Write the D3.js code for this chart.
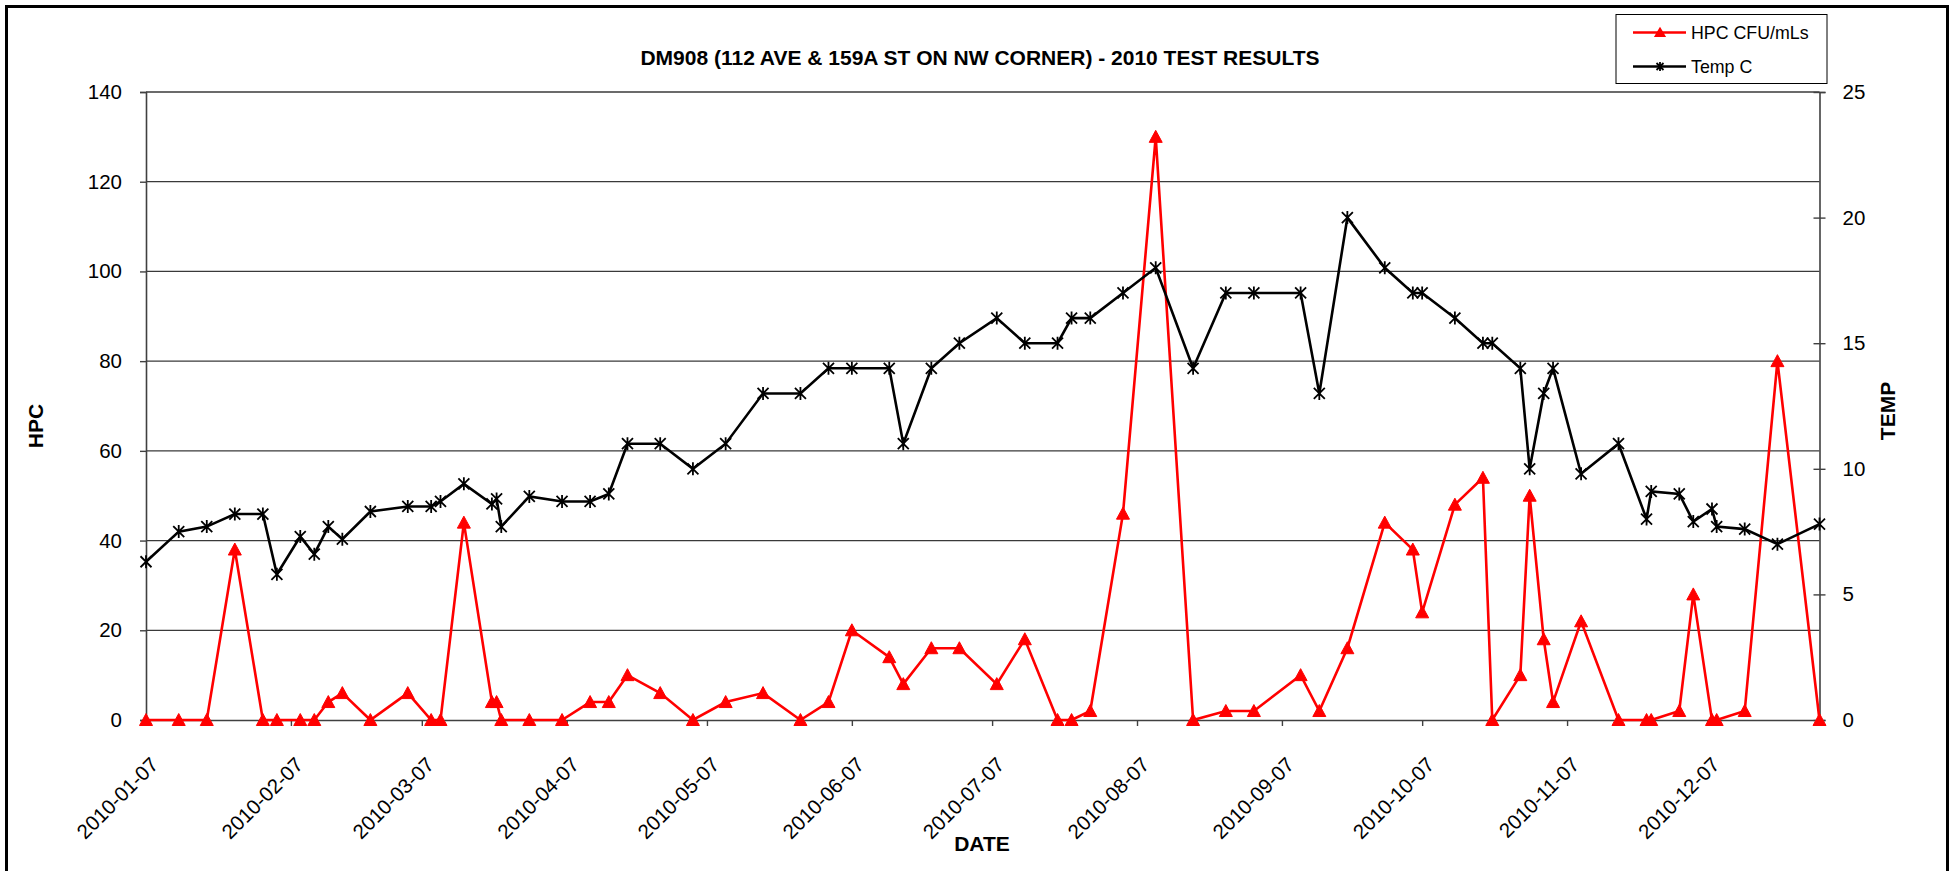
<!DOCTYPE html>
<html><head><meta charset="utf-8">
<script src="https://cdn.jsdelivr.net/npm/d3@7"></script>
<style>
body{margin:0;background:#fff}
svg{display:block}
text{font-family:"Liberation Sans",Arial,sans-serif;fill:#000}
</style>
</head><body>
<svg id="chart" width="1958" height="871"></svg>
<script>
// ---------- DATA ----------
const dates = ["2010-01-07","2010-01-14","2010-01-20","2010-01-26","2010-02-01","2010-02-04","2010-02-09","2010-02-12","2010-02-15","2010-02-18","2010-02-24",
"2010-03-04","2010-03-09","2010-03-11","2010-03-16","2010-03-22","2010-03-23","2010-03-24","2010-03-30","2010-04-06","2010-04-12","2010-04-16","2010-04-20","2010-04-27",
"2010-05-04","2010-05-11","2010-05-19","2010-05-27","2010-06-02","2010-06-07","2010-06-15","2010-06-18","2010-06-24","2010-06-30","2010-07-08","2010-07-14","2010-07-21","2010-07-24","2010-07-28",
"2010-08-04","2010-08-11","2010-08-19","2010-08-26","2010-09-01","2010-09-11","2010-09-15","2010-09-21","2010-09-29","2010-10-05","2010-10-07","2010-10-14","2010-10-20","2010-10-22","2010-10-28","2010-10-30",
"2010-11-02","2010-11-04","2010-11-10","2010-11-18","2010-11-24","2010-11-25","2010-12-01","2010-12-04","2010-12-08","2010-12-09","2010-12-15","2010-12-22","2010-12-31"];
const hpcValues = [0,0,0,38,0,0,0,0,4,6,0,
6,0,0,44,4,4,0,0,0,4,4,10,6,
0,4,6,0,4,20,14,8,16,16,8,18,0,0,2,
46,130,0,2,2,10,2,16,44,38,24,48,54,0,10,50,
18,4,22,0,0,0,2,28,0,0,2,80,0];
const tempValues = [6.3,7.5,7.7,8.2,8.2,5.8,7.3,6.6,7.7,7.2,8.3,
8.5,8.5,8.7,9.4,8.6,8.8,7.7,8.9,8.7,8.7,9.0,11,11,
10,11,13,13,14,14,14,11,14,15,16,15,15,16,16,
17,18,14,17,17,17,13,20,18,17,17,16,15,15,14,10,
13,14,9.8,11,8.0,9.1,9.0,7.9,8.4,7.7,7.6,7.0,7.8];
const hpcTicks = [0,20,40,60,80,100,120,140];
const tempTicks = [0,5,10,15,20,25];
const dateTickLabels = ["2010-01-07","2010-02-07","2010-03-07","2010-04-07","2010-05-07","2010-06-07","2010-07-07","2010-08-07","2010-09-07","2010-10-07","2010-11-07","2010-12-07"];
const seriesNames = ["HPC CFU/mLs","Temp C"];
const titleText = "DM908 (112 AVE & 159A ST ON NW CORNER) - 2010 TEST RESULTS";

// ---------- LAYOUT ----------
const parse = d3.timeParse("%Y-%m-%d");
const fmt = d3.timeFormat("%Y-%m-%d");
const L = 146, R = 1819.5, T = 92, B = 720;
const svg = d3.select("#chart");

svg.append("rect").attr("x",6.5).attr("y",6.5).attr("width",1941).attr("height",900)
  .attr("fill","#fff").attr("stroke","#000").attr("stroke-width",3);

const x = d3.scaleTime().domain([parse("2010-01-07"), parse("2010-12-31")]).range([L, R]);
const yH = d3.scaleLinear().domain([0,140]).range([B, T]);
const yT = d3.scaleLinear().domain([0,25]).range([B, T]);

// gridlines
svg.append("g").selectAll("line").data(hpcTicks.filter(v=>v>0)).join("line")
  .attr("x1",L).attr("x2",R).attr("y1",d=>yH(d)).attr("y2",d=>yH(d))
  .attr("stroke","#3a3a3a").attr("stroke-width",1.3);

// left axis
const gL = svg.append("g").attr("transform",`translate(${L},0)`)
  .call(d3.axisLeft(yH).tickValues(hpcTicks).tickSize(6).tickPadding(18));
gL.selectAll("text").attr("font-size","20.5px").attr("font-family","Liberation Sans, Arial, sans-serif");

// right axis
const gR = svg.append("g").attr("transform",`translate(${R},0)`)
  .call(d3.axisRight(yT).tickValues(tempTicks).tickSize(6).tickPadding(17));
gR.selectAll(".tick line").attr("x1",-6);
gR.selectAll("text").attr("font-size","20.5px").attr("font-family","Liberation Sans, Arial, sans-serif");

// bottom axis
const gB = svg.append("g").attr("transform",`translate(0,${B})`)
  .call(d3.axisBottom(x).tickValues(dateTickLabels.map(parse)).tickSize(6).tickFormat(fmt));
gB.selectAll("text").attr("font-size","20.5px").attr("font-family","Liberation Sans, Arial, sans-serif")
  .attr("text-anchor","end").attr("dy",null).attr("y",null)
  .attr("transform","translate(13,46) rotate(-45)");

[gL,gR,gB].forEach(g=>{
  g.select(".domain").attr("stroke","#404040").attr("stroke-width",1.6);
  g.selectAll(".tick line").attr("stroke","#404040").attr("stroke-width",1.4);
});

// data
const data = dates.map((d,i)=>({date:parse(d), hpc:hpcValues[i], temp:tempValues[i]}));

const triPath = "M0,-6.5L6.5,5.5L-6.5,5.5Z";
const starPath = "M-5.5,-5.5L5.5,5.5M-5.5,5.5L5.5,-5.5M0,-6.5V6.5";

svg.append("path").datum(data)
  .attr("d", d3.line().x(d=>x(d.date)).y(d=>yH(d.hpc)))
  .attr("fill","none").attr("stroke","#ff0000").attr("stroke-width",2.6).attr("stroke-linejoin","miter");
svg.append("g").selectAll("path").data(data).join("path")
  .attr("d",triPath).attr("transform",d=>`translate(${x(d.date)},${yH(d.hpc)})`)
  .attr("fill","#ff0000").attr("stroke","#ff0000").attr("stroke-width",1);

svg.append("path").datum(data)
  .attr("d", d3.line().x(d=>x(d.date)).y(d=>yT(d.temp)))
  .attr("fill","none").attr("stroke","#000").attr("stroke-width",2.6);
svg.append("g").selectAll("path").data(data).join("path")
  .attr("d",starPath).attr("transform",d=>`translate(${x(d.date)},${yT(d.temp)})`)
  .attr("fill","none").attr("stroke","#000").attr("stroke-width",1.8);

// titles
svg.append("text").attr("x",980).attr("y",65).attr("text-anchor","middle")
  .attr("font-size","21px").attr("font-weight","bold").text(titleText);
svg.append("text").attr("x",982).attr("y",851).attr("text-anchor","middle")
  .attr("font-size","21px").attr("font-weight","bold").text("DATE");
svg.append("text").attr("transform","translate(43,426) rotate(-90)").attr("text-anchor","middle")
  .attr("font-size","21px").attr("font-weight","bold").text("HPC");
svg.append("text").attr("transform","translate(1895,411) rotate(-90)").attr("text-anchor","middle")
  .attr("font-size","21px").attr("font-weight","bold").text("TEMP");

// legend
const lg = svg.append("g");
lg.append("rect").attr("x",1616).attr("y",14.5).attr("width",211).attr("height",69)
  .attr("fill","#fff").attr("stroke","#000").attr("stroke-width",1);
const legendItems = [
  {name:seriesNames[0], color:"#ff0000", y:32.5, marker:"M0,-4L4.5,3.5L-4.5,3.5Z", fill:"#ff0000"},
  {name:seriesNames[1], color:"#000", y:66.5, marker:"M-3.5,-3.5L3.5,3.5M-3.5,3.5L3.5,-3.5M0,-4.5V4.5", fill:"none"}
];
legendItems.forEach(it=>{
  lg.append("line").attr("x1",1633).attr("x2",1686).attr("y1",it.y).attr("y2",it.y)
    .attr("stroke",it.color).attr("stroke-width",2.6);
  lg.append("path").attr("d",it.marker).attr("transform",`translate(1660,${it.y})`)
    .attr("fill",it.fill).attr("stroke",it.color).attr("stroke-width",1.8);
  lg.append("text").attr("x",1691).attr("y",it.y+6).attr("font-size","17.8px").text(it.name);
});
</script>
</body></html>
